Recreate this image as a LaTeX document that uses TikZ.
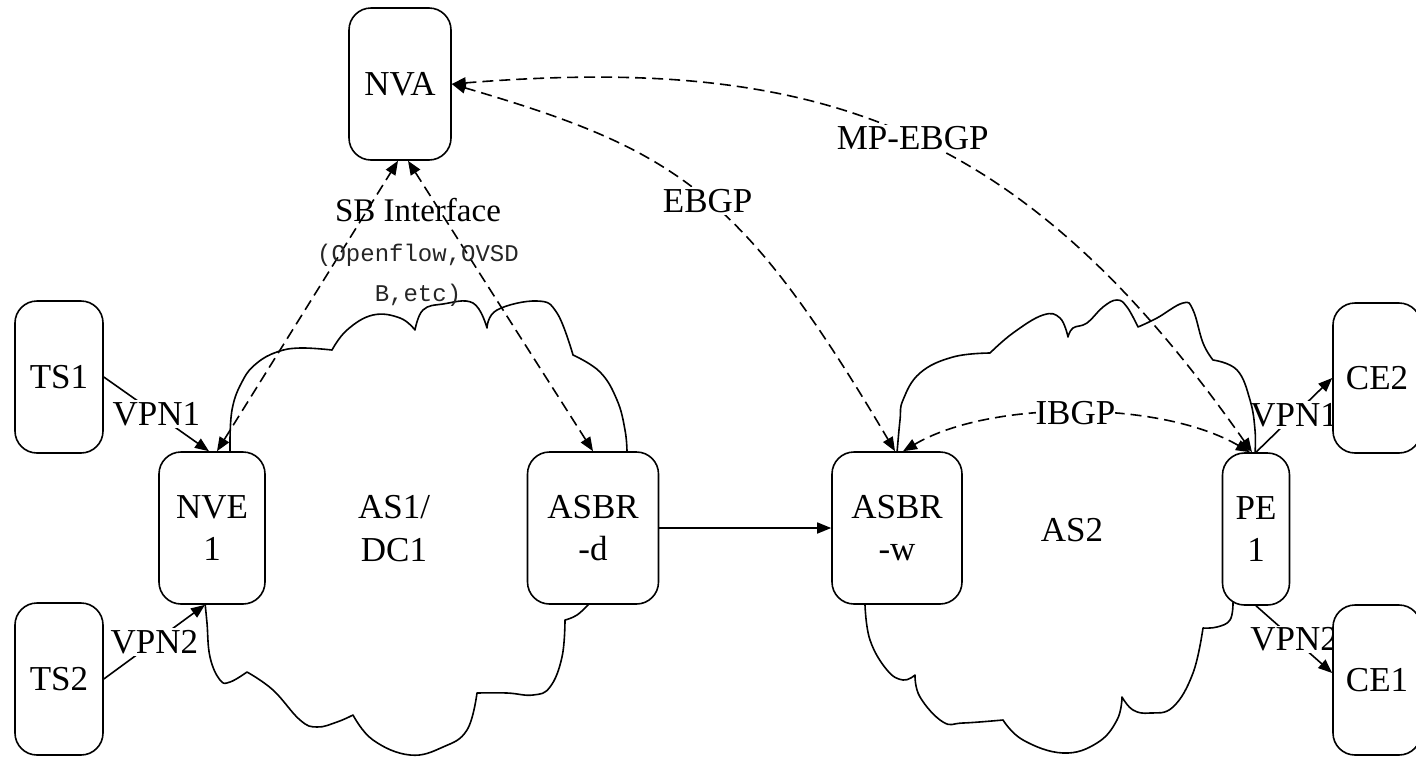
\documentclass[tikz,border=0pt]{standalone}
\usepackage{fontspec}
\setmainfont{Liberation Serif}
\newfontfamily\monofont{Liberation Mono}
\usetikzlibrary{arrows.meta}
\pgfdeclarelayer{vpn}
\pgfdeclarelayer{cloud}
\pgfsetlayers{vpn,cloud,main}
\begin{document}
\begin{tikzpicture}[x=1pt,y=-1pt,
  box/.style={draw, line width=1.6pt, rounded corners=22pt, fill=white, inner sep=0pt, align=center, font=\fontsize{35}{42}\selectfont},
  txt/.style={inner sep=1pt, align=center, font=\fontsize{35}{43}\selectfont},
  lbl/.style={fill=white, inner sep=2pt, font=\fontsize{35}{42}\selectfont},
  conn/.style={line width=1.6pt},
  dashconn/.style={line width=1.6pt, dash pattern=on 11pt off 6pt},
  cloudline/.style={line width=1.6pt, line join=round},
  tip/.style={-{Triangle[length=14pt,width=11pt]}},
  tips/.style={{Triangle[length=14pt,width=11pt]}-{Triangle[length=14pt,width=11pt]}},
]
\useasboundingbox (0,0) rectangle (1416,756);
\clip (0,0) rectangle (1416,756);

% nodes
\node[box, minimum width=102pt, minimum height=152pt] (NVA) at (400,84) {NVA};
\node[box, minimum width=88pt, minimum height=152pt] (TS1) at (59,377) {TS1};
\node[box, minimum width=88pt, minimum height=152pt] (TS2) at (59,679) {TS2};
\node[box, minimum width=106pt, minimum height=152pt] (NVE1) at (212,528) {NVE\\1};
\node[box, minimum width=131pt, minimum height=152pt] (ASBRd) at (593,528) {ASBR\\-d};
\node[box, minimum width=130pt, minimum height=152pt] (ASBRw) at (897,528) {ASBR\\-w};
\node[box, minimum width=67pt, minimum height=152pt] (PE1) at (1256,529) {PE\\1};
\node[box, minimum width=88pt, minimum height=150pt] (CE2) at (1377,378) {CE2};
\node[box, minimum width=88pt, minimum height=150pt] (CE1) at (1377,680) {CE1};

\node[txt] (AS1) at (394,529) {AS1/\\DC1};
\node[txt] (AS2) at (1072,530) {AS2};

% VPN attachments (below the clouds)
\begin{pgfonlayer}{vpn}
\draw[conn,tip] (TS1.east) -- node[lbl]{VPN1} ([xshift=-3pt]NVE1.north);
\draw[conn,tip] (TS2.east) -- node[lbl]{VPN2} ([xshift=-7pt]NVE1.south);
\draw[conn,tip] (PE1.north) -- node[lbl]{VPN1} (CE2.west);
\draw[conn,tip] (PE1.south) -- node[lbl]{VPN2} ([yshift=7pt]CE1.west);
\end{pgfonlayer}

% clouds
\begin{pgfonlayer}{cloud}
\draw[cloudline] (205,603) -- (230,452)
  -- plot[smooth, tension=0.7] coordinates {(230,452) (232,410) (243,380) (257,363) (277,352) (300,348) (332,350)}
  -- plot[smooth, tension=0.7] coordinates {(332,350) (347,330) (373,315) (400,318) (415,330)}
  -- plot[smooth, tension=0.7] coordinates {(415,330) (423,310) (443,304) (473,303) (487,328)}
  -- plot[smooth, tension=0.7] coordinates {(487,328) (497,310) (537,301) (557,313) (573,355)}
  -- plot[smooth, tension=0.7] coordinates {(573,355) (600,372) (617,400) (625,430) (627,452)}
  -- (590,603)
  -- plot[smooth, tension=0.7] coordinates {(590,603) (577,615) (565,620)}
  -- plot[smooth, tension=0.7] coordinates {(565,620) (562,657) (550,687) (533,695) (507,693) (477,693)}
  -- plot[smooth, tension=0.7] coordinates {(477,693) (467,730) (443,747) (410,755) (373,740) (353,715)}
  -- plot[smooth, tension=0.7] coordinates {(353,715) (337,722) (317,727) (300,720) (273,690) (247,672)}
  -- plot[smooth, tension=0.7] coordinates {(247,672) (230,682) (220,680) (210,657) (207,623) (205,603)} -- cycle;
\draw[cloudline] (865,605) -- (897,453)
  -- plot[smooth, tension=0.7] coordinates {(897,453) (900,420) (903,400) (920,373) (953,357) (990,353)}
  -- plot[smooth, tension=0.7] coordinates {(990,353) (1013,333) (1043,315) (1060,318) (1068,337)}
  -- plot[smooth, tension=0.7] coordinates {(1068,337) (1073,328) (1087,323) (1103,307) (1117,300) (1127,307) (1138,327)}
  -- plot[smooth, tension=0.7] coordinates {(1138,327) (1157,318) (1183,303) (1193,310) (1203,343) (1213,360)}
  -- plot[smooth, tension=0.7] coordinates {(1213,360) (1237,370) (1250,400) (1255,430) (1255,453)}
  -- (1233,603)
  -- plot[smooth, tension=0.7] coordinates {(1233,603) (1230,620) (1217,627) (1203,628)}
  -- plot[smooth, tension=0.7] coordinates {(1203,628) (1193,673) (1173,707) (1150,713) (1133,710) (1122,697)}
  -- plot[smooth, tension=0.7] coordinates {(1122,697) (1117,720) (1097,743) (1063,753) (1023,740) (1003,720)}
  -- plot[smooth, tension=0.7] coordinates {(1003,720) (963,723) (943,722) (920,697) (915,675)}
  -- plot[smooth, tension=0.7] coordinates {(915,675) (903,680) (887,670) (870,640) (865,605)} -- cycle;
\end{pgfonlayer}

% inter-AS link
\draw[conn,tip] (ASBRd.east) -- (ASBRw.west);

% SB interface
\draw[dashconn,tips] ([xshift=5pt]NVE1.north) -- ([xshift=-2pt]NVA.south);
\draw[dashconn,tips] (ASBRd.north) -- ([xshift=8pt]NVA.south);
\node[inner sep=0pt, align=center, text=black!85, font=\monofont\fontsize{24}{40}\selectfont] (SB) at (418,252)
  {{\rmfamily\color{black}\fontsize{33}{40}\selectfont SB Interface}\\(Openflow,OVSD\\B,etc)};

% BGP sessions
\draw[dashconn,tips] (NVA.east) .. controls (677,150) and (741,191) .. ([xshift=-2pt]ASBRw.north)
  node[lbl, pos=0.52] {EBGP};
\draw[dashconn,tips] (NVA.east) .. controls (822,54) and (1024,127) .. ([xshift=-4pt]PE1.north)
  node[lbl, pos=0.51] {MP-EBGP};
\draw[dashconn,tips] ([xshift=6pt]ASBRw.north) .. controls (990,400) and (1160,400) .. ([xshift=-6pt]PE1.north)
  node[lbl, inner sep=0pt, pos=0.5] {IBGP};
\end{tikzpicture}
\end{document}
